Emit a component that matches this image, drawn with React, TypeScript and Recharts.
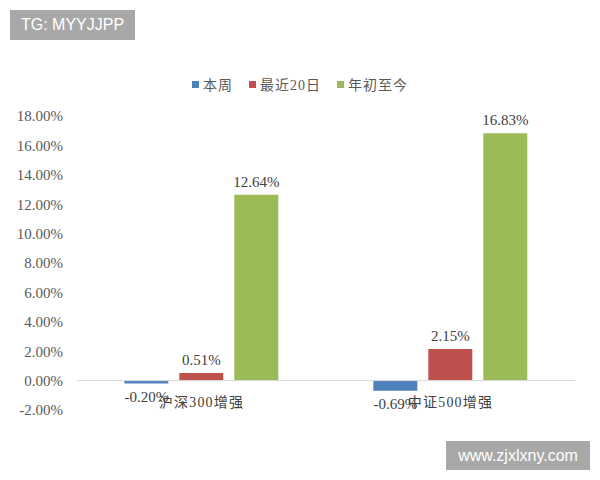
import React from 'react';
import { BarChart, Bar, XAxis, YAxis, ReferenceLine, LabelList } from 'recharts';

const categories = ['沪深300增强', '中证500增强'];
const thisWeek = [-0.2, -0.69];
const last20Days = [0.51, 2.15];
const yearToDate = [12.64, 16.83];
const yTicks = [-2, 0, 2, 4, 6, 8, 10, 12, 14, 16, 18];

const seriesNames = ['本周', '最近20日', '年初至今'];
const colors = ['#4f81bd', '#c0504d', '#9bbb59'];

const data = categories.map((name, i) => ({
  name,
  week: thisWeek[i],
  d20: last20Days[i],
  ytd: yearToDate[i],
}));

const serif = '"Liberation Serif", "Times New Roman", "Noto Sans CJK SC", serif';
const pct = (v: number) => `${v.toFixed(2)}%`;

const CategoryTick = (props: any) => {
  const { x, y, payload } = props;
  return (
    <text x={x} y={y - 11} textAnchor="middle" fontSize={14} letterSpacing={1.2} fill="#404040" fontFamily={serif}>
      {payload.value}
    </text>
  );
};

const badge: React.CSSProperties = {
  position: 'absolute',
  background: '#a8a8a8',
  color: '#fff',
  fontFamily: '"Liberation Sans", Arial, sans-serif',
  fontSize: 16,
  display: 'flex',
  alignItems: 'center',
  justifyContent: 'center',
};

export default function App() {
  return (
    <div style={{ position: 'absolute', left: 0, top: 0, width: 600, height: 480, background: '#fff' }}>
      <div
        style={{
          position: 'absolute',
          top: 74,
          left: 0,
          width: 600,
          display: 'flex',
          justifyContent: 'center',
          fontFamily: serif,
          fontSize: 14,
          letterSpacing: 1,
          color: '#595959',
        }}
      >
        {seriesNames.map((n, i) => (
          <span key={n} style={{ display: 'flex', alignItems: 'center', marginRight: i < 2 ? 16 : 0 }}>
            <span style={{ width: 7, height: 7, background: colors[i], marginRight: 4, display: 'inline-block' }} />
            {n}
          </span>
        ))}
      </div>
      <BarChart
        width={600}
        height={480}
        data={data}
        margin={{ top: 116, right: 25, bottom: 50, left: 17 }}
        barCategoryGap="19%"
        barGap={11}
      >
        <XAxis dataKey="name" axisLine={false} tickLine={false} height={20} tick={<CategoryTick />} interval={0} />
        <YAxis
          domain={[-2, 18]}
          ticks={yTicks}
          width={60}
          axisLine={false}
          tickLine={false}
          tickMargin={8}
          tickFormatter={pct}
          tick={{ fontSize: 15, fill: '#595959', fontFamily: serif }}
        />
        <ReferenceLine y={0} stroke="#d9d9d9" />
        {(['week', 'd20', 'ytd'] as const).map((k, i) => (
          <Bar key={k} dataKey={k} name={seriesNames[i]} fill={colors[i]} isAnimationActive={false}>
            <LabelList
              dataKey={k}
              position="top"
              offset={8}
              formatter={(v: any) => pct(Number(v))}
              style={{ fontSize: 15, fill: '#404040', fontFamily: serif }}
            />
          </Bar>
        ))}
      </BarChart>
      <div style={{ ...badge, left: 10, top: 10, width: 125, height: 30 }}>TG: MYYJJPP</div>
      <div style={{ ...badge, left: 446, top: 441, width: 144, height: 29 }}>www.zjxlxny.com</div>
    </div>
  );
}
